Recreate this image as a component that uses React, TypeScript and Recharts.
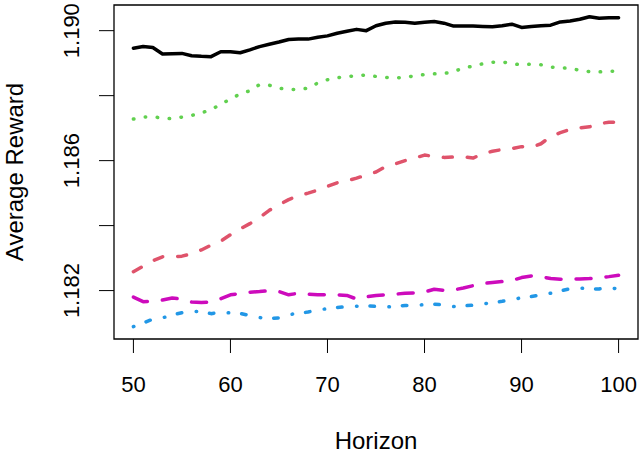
import React from 'react';
import { LineChart, Line, XAxis, YAxis, ReferenceArea } from 'recharts';

// Planning horizon values (x axis)
const horizon = [
  50, 51, 52, 53, 54, 55, 56, 57, 58, 59,
  60, 61, 62, 63, 64, 65, 66, 67, 68, 69,
  70, 71, 72, 73, 74, 75, 76, 77, 78, 79,
  80, 81, 82, 83, 84, 85, 86, 87, 88, 89,
  90, 91, 92, 93, 94, 95, 96, 97, 98, 99, 100,
];

// Average reward per method
const solidSeries = [
  1.18946, 1.18951, 1.18948, 1.18928, 1.18929, 1.1893, 1.18923, 1.18921, 1.1892, 1.18935,
  1.18935, 1.18932, 1.18941, 1.18951, 1.18958, 1.18965, 1.18973, 1.18974, 1.18974, 1.1898,
  1.18984, 1.18992, 1.18998, 1.19004, 1.19, 1.19015, 1.19023, 1.19027, 1.19026, 1.19023,
  1.19026, 1.19028, 1.19023, 1.19014, 1.19014, 1.19014, 1.19013, 1.19012, 1.19015, 1.1902,
  1.1901, 1.19013, 1.19015, 1.19017, 1.19027, 1.1903, 1.19035, 1.19043, 1.19038, 1.1904, 1.1904,
];

const dottedSeries = [
  1.18728, 1.18734, 1.18735, 1.18731, 1.18729, 1.18734, 1.18739, 1.18747, 1.18757, 1.18773,
  1.1879, 1.18805, 1.18815, 1.18834, 1.18832, 1.18823, 1.18819, 1.18819, 1.18823, 1.18839,
  1.18849, 1.18855, 1.18859, 1.18861, 1.18864, 1.18859, 1.18856, 1.18855, 1.18856, 1.18861,
  1.18865, 1.18867, 1.18868, 1.18874, 1.18885, 1.18891, 1.18898, 1.18903, 1.18904, 1.18898,
  1.18895, 1.18897, 1.18895, 1.18888, 1.18886, 1.18884, 1.18878, 1.18874, 1.18873, 1.18875, 1.18875,
];

const dashedSeries = [
  1.18258, 1.18275, 1.18292, 1.18304, 1.18304, 1.18306, 1.18313, 1.18325, 1.1834, 1.18352,
  1.18372, 1.1839, 1.18406, 1.18425, 1.18447, 1.18464, 1.1848, 1.18492, 1.185, 1.18509,
  1.18521, 1.18532, 1.18538, 1.18546, 1.18556, 1.18565, 1.18582, 1.1859, 1.186, 1.18608,
  1.18617, 1.18613, 1.1861, 1.18611, 1.18612, 1.18608, 1.18621, 1.18629, 1.18634, 1.18637,
  1.18643, 1.18641, 1.18652, 1.18674, 1.18686, 1.18696, 1.18701, 1.18704, 1.18714, 1.18718, 1.18719,
];

const longDashSeries = [
  1.1818, 1.18166, 1.18167, 1.18171, 1.18177, 1.18174, 1.18165, 1.18163, 1.18165, 1.18175,
  1.18187, 1.18191, 1.18195, 1.18197, 1.182, 1.18197, 1.18187, 1.18192, 1.18189, 1.18187,
  1.18187, 1.18187, 1.18185, 1.18174, 1.18181, 1.18185, 1.18187, 1.18189, 1.18192, 1.18193,
  1.18196, 1.18204, 1.18201, 1.18202, 1.18208, 1.18215, 1.18222, 1.18225, 1.18228, 1.18231,
  1.1824, 1.18245, 1.18243, 1.18237, 1.18235, 1.18235, 1.18236, 1.18237, 1.1824, 1.18243, 1.18247,
];

const dotDashSeries = [
  1.18089, 1.181, 1.18112, 1.18116, 1.18125, 1.18132, 1.18136, 1.18136, 1.18129, 1.18134,
  1.18131, 1.1813, 1.18123, 1.18117, 1.18114, 1.18116, 1.18126, 1.1813, 1.18134, 1.18141,
  1.18144, 1.18148, 1.18151, 1.18152, 1.18154, 1.18151, 1.18149, 1.18152, 1.18154, 1.18154,
  1.18157, 1.18158, 1.18156, 1.18151, 1.18153, 1.18155, 1.18159, 1.18163, 1.18167, 1.18172,
  1.18178, 1.18182, 1.18186, 1.18192, 1.18199, 1.18206, 1.18208, 1.18205, 1.18205, 1.1821, 1.18204,
];

// Axis ticks
const xTicks = [50, 60, 70, 80, 90, 100];
const yTicks = [1.182, 1.184, 1.186, 1.188, 1.19];
const yLabeledTicks = [1.182, 1.186, 1.19];

const X_DOMAIN: [number, number] = [48, 102];
const Y_DOMAIN: [number, number] = [1.18051, 1.19079];

const FONT = '"Liberation Sans", Arial, Helvetica, sans-serif';

const data = horizon.map((h, i) => ({
  h,
  s1: solidSeries[i],
  s2: dashedSeries[i],
  s3: dottedSeries[i],
  s4: dotDashSeries[i],
  s5: longDashSeries[i],
}));

const YTick = (props: any) => {
  const { x, y, payload } = props;
  const v = payload.value as number;
  const show = yLabeledTicks.some((t) => Math.abs(t - v) < 1e-9);
  if (!show) return <g />;
  return (
    <text
      x={x}
      y={y}
      dy="0.36em"
      transform={`rotate(-90, ${x}, ${y})`}
      textAnchor="middle"
      fontSize={22}
      fontFamily={FONT}
      fill="#000"
    >
      {v.toFixed(3)}
    </text>
  );
};

const YTitle = (props: any) => {
  const { viewBox } = props;
  const cx = viewBox.x + 14;
  const cy = viewBox.y + viewBox.height / 2;
  return (
    <text
      x={cx}
      y={cy}
      dy="0.36em"
      transform={`rotate(-90, ${cx}, ${cy})`}
      textAnchor="middle"
      fontSize={24}
      fontFamily={FONT}
      fill="#000"
    >
      Average Reward
    </text>
  );
};

const XTitle = (props: any) => {
  const { viewBox } = props;
  return (
    <text
      x={viewBox.x + viewBox.width / 2}
      y={viewBox.y + 110}
      textAnchor="middle"
      fontSize={24}
      fontFamily={FONT}
      fill="#000"
    >
      Horizon
    </text>
  );
};

export default function App() {
  return (
    <div style={{ position: 'absolute', left: 0, top: 0, width: 640, height: 454, background: '#fff' }}>
      <LineChart width={640} height={454} data={data} margin={{ top: 5, right: 2, bottom: 0, left: 0 }}>
        <XAxis
          dataKey="h"
          type="number"
          domain={X_DOMAIN}
          ticks={xTicks}
          allowDataOverflow
          axisLine={false}
          tickSize={14}
          tickMargin={23}
          tickLine={{ stroke: '#000', strokeWidth: 1 }}
          tick={{ fill: '#000', fontSize: 22, fontFamily: FONT }}
          height={115}
          label={{ content: <XTitle /> }}
        />
        <YAxis
          type="number"
          domain={Y_DOMAIN}
          ticks={yTicks}
          allowDataOverflow
          axisLine={false}
          tickSize={15}
          tickMargin={28}
          tickLine={{ stroke: '#000', strokeWidth: 1 }}
          tick={<YTick />}
          width={114}
          label={{ content: <YTitle /> }}
        />
        <Line dataKey="s1" stroke="#000000" strokeWidth={3.5} dot={false} isAnimationActive={false}
          strokeLinecap="round" strokeLinejoin="round" />
        <Line dataKey="s2" stroke="#DF536B" strokeWidth={3.5} strokeDasharray="9 15" dot={false}
          isAnimationActive={false} strokeLinecap="round" strokeLinejoin="round" />
        <Line dataKey="s3" stroke="#61D04F" strokeWidth={3.5} strokeDasharray="0.5 11.5" dot={false}
          isAnimationActive={false} strokeLinecap="round" strokeLinejoin="round" />
        <Line dataKey="s4" stroke="#2297E6" strokeWidth={3.5} strokeDasharray="0.5 13 4.5 14.5" dot={false}
          isAnimationActive={false} strokeLinecap="round" strokeLinejoin="round" />
        <Line dataKey="s5" stroke="#CD0BBC" strokeWidth={3.5} strokeDasharray="15 15" dot={false}
          isAnimationActive={false} strokeLinecap="round" strokeLinejoin="round" />
        <ReferenceArea
          x1={X_DOMAIN[0]}
          x2={X_DOMAIN[1]}
          y1={Y_DOMAIN[0]}
          y2={Y_DOMAIN[1]}
          fill="none"
          fillOpacity={0}
          stroke="#000"
          strokeWidth={1.3}
          ifOverflow="visible"
        />
      </LineChart>
    </div>
  );
}
